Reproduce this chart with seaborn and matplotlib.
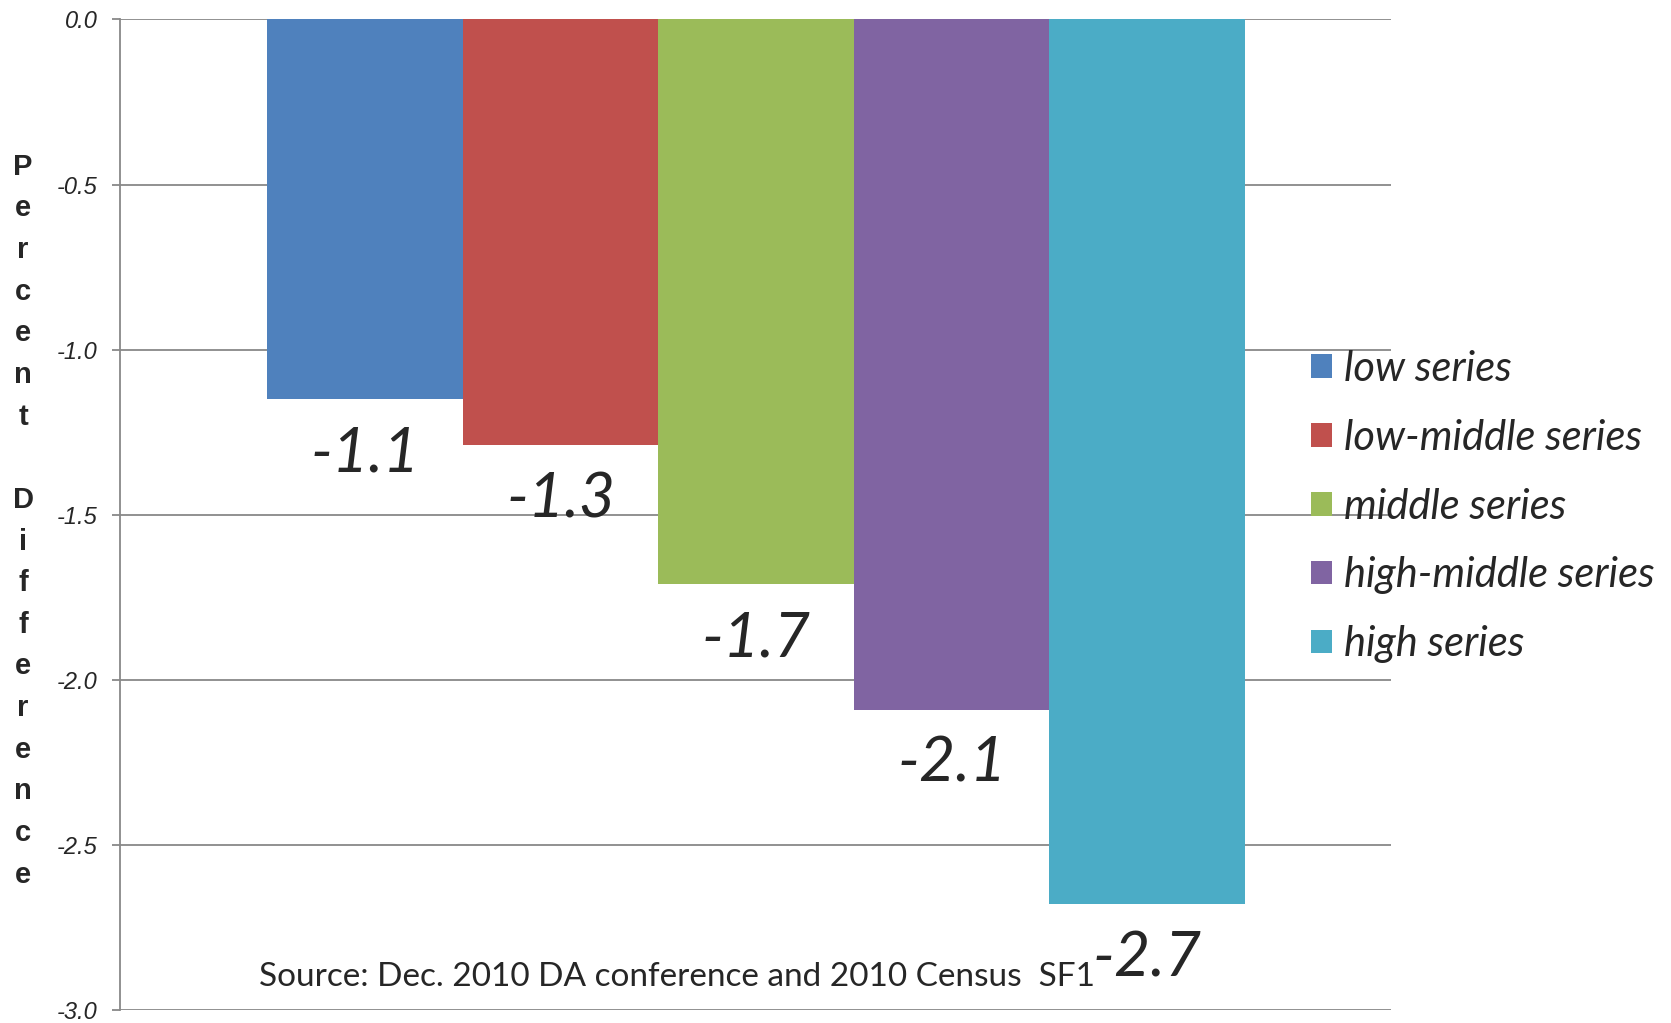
import matplotlib
matplotlib.use('Agg')
import matplotlib.pyplot as plt
import seaborn as sns
import pandas as pd

# ── 데이터 ──────────────────────────────────────────────────────────────
series = ['low series', 'low-middle series', 'middle series', 'high-middle series', 'high series']
values = [-1.15, -1.29, -1.71, -2.09, -2.68]
labels = ['-1.1', '-1.3', '-1.7', '-2.1', '-2.7']
colors = ['#4F81BD', '#C0504D', '#9BBB59', '#8064A2', '#4BACC6']
yticks = [0.0, -0.5, -1.0, -1.5, -2.0, -2.5, -3.0]

df = pd.DataFrame({'series': series, 'value': values})

sns.set_style('white')
plt.rcParams['font.family'] = ['Liberation Sans', 'DejaVu Sans']

fig = plt.figure(figsize=(16.71, 10.23), dpi=100)
ax = fig.add_axes([0.0718, 0.0127, 0.7606, 0.9683])

sns.barplot(data=df, x='series', y='value', hue='series', palette=colors,
            width=1.0, dodge=False, legend=True, ax=ax, saturation=1,
            linewidth=0)

# 격자선 / 축
ax.set_ylim(-3.0, 0.0)
ax.set_xlim(-1.254, 5.247)
ax.set_yticks(yticks)
ax.set_yticklabels([f'{t:.1f}' for t in yticks], fontstyle='italic', fontsize=17)
ax.yaxis.grid(True, color='#888888', linewidth=1.3)
ax.set_axisbelow(True)
ax.tick_params(axis='y', length=6, width=1.3, color='#888888', pad=10, left=True)
ax.set_xticks([])
ax.set_xlabel('')
ax.set_ylabel('')
for s in ['top', 'right', 'bottom']:
    ax.spines[s].set_visible(False)
ax.spines['left'].set_color('#888888')
ax.spines['left'].set_linewidth(1.3)

# 막대 라벨
for i, (v, lab) in enumerate(zip(values, labels)):
    ax.text(i, v - 0.165, lab, ha='center', va='center', fontsize=45,
            fontstyle='italic', family=['Lato', 'DejaVu Sans'])

# 세로 y축 제목
ylab = '\n'.join(list('Percent') + [''] + list('Difference'))
fig.text(0.0138, 0.491, ylab, ha='center', va='center', fontsize=21,
         fontweight='bold', linespacing=1.62)

# 범례
handles, _ = ax.get_legend_handles_labels()
ax.legend(handles, series, loc='upper left', bbox_to_anchor=(0.7846, 0.658),
          bbox_transform=fig.transFigure, frameon=False, borderpad=0,
          borderaxespad=0, handlelength=0.5, handleheight=0.5,
          handletextpad=0.3, labelspacing=0.74,
          prop={'family': 'Lato', 'style': 'italic', 'size': 30})

# 출처
fig.text(0.155, 0.045, 'Source: Dec. 2010 DA conference and 2010 Census  SF1',
         ha='left', va='center', fontsize=24, family=['Lato', 'DejaVu Sans'])

plt.savefig('out.png', dpi=100)
